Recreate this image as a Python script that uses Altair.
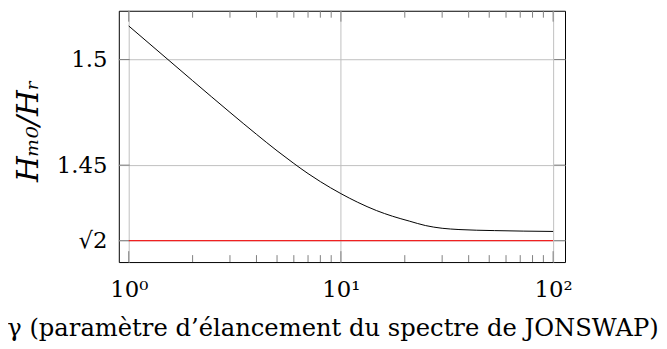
import math
import altair as alt
import pandas as pd

# curve H_m0 / H_r as a function of gamma
gamma = [1, 2, 3, 4, 5, 6, 7, 8, 10, 12, 14.7, 17.5, 21, 25, 30, 36, 53, 100]
ratio = [1.5159, 1.4900, 1.4750, 1.4646, 1.4568, 1.4508, 1.4460, 1.4422,
         1.4365, 1.4324, 1.4285, 1.4258, 1.4235, 1.4214, 1.4201, 1.4195, 1.4190, 1.4186]

sqrt2 = math.sqrt(2)
ref_gamma = [1, 100]
ref_ratio = [sqrt2, sqrt2]

x_major = [1, 10, 100]
x_minor = [2, 3, 4, 5, 6, 7, 8, 9, 20, 30, 40, 50, 60, 70, 80, 90]
y_major = [sqrt2, 1.45, 1.5]

W, H = 451, 254
FONT = "DejaVu Serif"

df = pd.DataFrame({"gamma": gamma, "ratio": ratio})
df_ref = pd.DataFrame({"gamma": ref_gamma, "ratio": ref_ratio})
df_xmin = pd.DataFrame({"gamma": x_minor})
df_xmaj = pd.DataFrame({"gamma": x_major})
df_ymaj = pd.DataFrame({"ratio": y_major})

xscale = alt.Scale(type="log", domain=[0.898, 113.8], nice=False)
yscale = alt.Scale(domain=[1.4041, 1.5231], nice=False, zero=False)

xaxis = alt.Axis(
    values=x_major, grid=True, ticks=False, domain=False,
    labelExpr="'10' + (datum.value < 5 ? '⁰' : (datum.value < 50 ? '¹' : '²'))",
    labelFont=FONT, labelFontSize=23, labelColor="black",
    labelBaseline="alphabetic", labelPadding=35, labelFlush=False,
    title="γ (paramètre d’élancement du spectre de JONSWAP)",
    titleFont=FONT, titleFontSize=24.5, titleFontWeight="normal", titleColor="black",
    titleX=216, titleY=74, titleBaseline="alphabetic", titleAlign="center",
)
yaxis = alt.Axis(
    values=y_major, grid=True, ticks=False, domain=False,
    labelExpr="datum.value < 1.42 ? '√2' : format(datum.value, '~g')",
    labelFont=FONT, labelFontSize=23, labelColor="black", labelPadding=12,
    labelFlush=False,
    title="Hₘ₀/Hᵣ",
    titleFont=FONT, titleFontSize=30, titleFontWeight="normal", titleFontStyle="italic",
    titleColor="black", titleAngle=270, titleX=-82, titleY=121,
    titleBaseline="alphabetic", titleAlign="center",
)

curve = alt.Chart(df).mark_line(color="black", strokeWidth=1, interpolate="monotone").encode(
    x=alt.X("gamma:Q", scale=xscale, axis=xaxis),
    y=alt.Y("ratio:Q", scale=yscale, axis=yaxis),
)

ref = alt.Chart(df_ref).mark_line(color="#f02020", strokeWidth=1.3).encode(
    x=alt.X("gamma:Q", scale=xscale),
    y=alt.Y("ratio:Q", scale=yscale),
)

TICK = "#808080"
minor_bot = alt.Chart(df_xmin).mark_rule(color=TICK, strokeWidth=1).encode(
    x=alt.X("gamma:Q", scale=xscale), y=alt.value(H - 7), y2=alt.value(H))
minor_top = alt.Chart(df_xmin).mark_rule(color=TICK, strokeWidth=1).encode(
    x=alt.X("gamma:Q", scale=xscale), y=alt.value(0), y2=alt.value(7))
major_bot = alt.Chart(df_xmaj).mark_rule(color=TICK, strokeWidth=1).encode(
    x=alt.X("gamma:Q", scale=xscale), y=alt.value(H - 11), y2=alt.value(H))
major_top = alt.Chart(df_xmaj).mark_rule(color=TICK, strokeWidth=1).encode(
    x=alt.X("gamma:Q", scale=xscale), y=alt.value(0), y2=alt.value(11))
major_left = alt.Chart(df_ymaj).mark_rule(color=TICK, strokeWidth=1).encode(
    y=alt.Y("ratio:Q", scale=yscale), x=alt.value(0), x2=alt.value(11))
major_right = alt.Chart(df_ymaj).mark_rule(color=TICK, strokeWidth=1).encode(
    y=alt.Y("ratio:Q", scale=yscale), x=alt.value(W - 11), x2=alt.value(W))

chart = alt.layer(
    minor_bot, minor_top, major_bot, major_top, major_left, major_right, ref, curve
).properties(
    width=W, height=H,
    autosize=alt.AutoSizeParams(type="none"),
    padding={"left": 112, "top": 1, "right": 95, "bottom": 78},
).configure_view(stroke="black", strokeWidth=1).configure_axis(
    gridColor="#bfbfbf", gridWidth=1
)

chart.save("out.html", embed_options={"renderer": "svg", "actions": False})
